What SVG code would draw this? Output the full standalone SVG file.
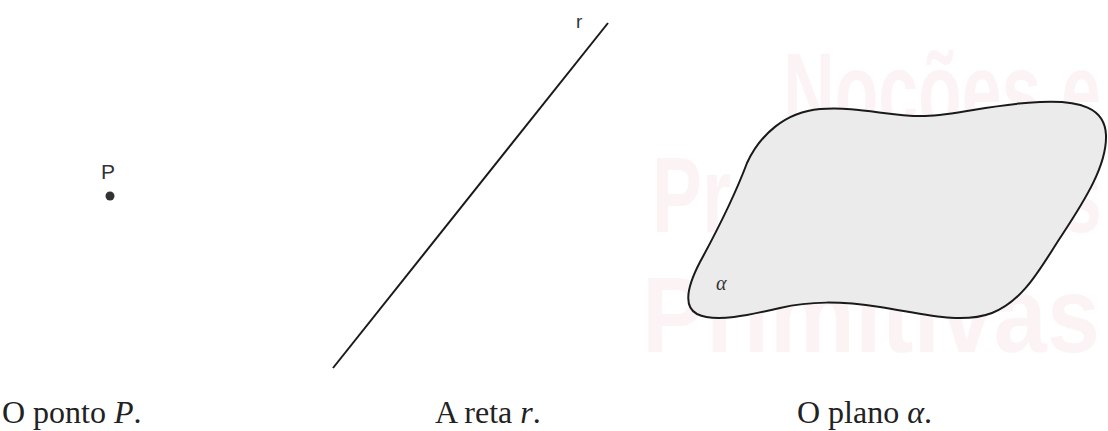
<svg xmlns="http://www.w3.org/2000/svg" width="1108" height="431" viewBox="0 0 1108 431">
<style>
.caption{font-family:"Liberation Serif","Times New Roman",serif;font-size:32px;fill:#222}
.label{font-family:"Liberation Sans",Arial,sans-serif;fill:#333}
.wm{font-family:"Liberation Sans",Arial,sans-serif;font-weight:bold;font-size:108px;fill:#fcf4f4}
</style>
<rect width="1108" height="431" fill="#ffffff"/>
<g id="watermark">
<text class="wm" x="783" y="128" textLength="318" lengthAdjust="spacingAndGlyphs">Noções e</text>
<text class="wm" x="652" y="232" textLength="450" lengthAdjust="spacingAndGlyphs">Proposições</text>
<text class="wm" x="642" y="352" textLength="458" lengthAdjust="spacingAndGlyphs">Primitivas</text>
</g>
<g id="point-P">
<text class="label" x="101" y="179" font-size="21">P</text>
<circle cx="110" cy="196" r="4.5" fill="#333"/>
<text class="caption" x="2" y="423">O ponto <tspan font-style="italic">P</tspan>.</text>
</g>
<g id="line-r">
<line x1="333" y1="368" x2="608" y2="23" stroke="#1a1a1a" stroke-width="2"/>
<text class="label" x="576" y="28" font-size="19">r</text>
<text class="caption" x="435" y="423">A reta <tspan font-style="italic">r</tspan>.</text>
</g>
<g id="plane-alpha">
<path d="M 747,163 C 760,135 785,112 820,109 C 860,106 890,117 925,116 C 960,115 990,104 1040,102 C 1080,100 1105,108 1106,135 C 1107,165 1085,200 1062,235 C 1042,265 1025,300 992,313 C 960,325 920,313 880,307 C 840,301 810,301 780,308 C 750,315 715,323 697,314 C 682,306 688,285 700,262 C 712,240 735,195 747,163 Z" fill="#ebebeb" stroke="#1a1a1a" stroke-width="2"/>
<text x="716" y="290" font-family="Liberation Serif,serif" font-style="italic" font-size="20" fill="#333">α</text>
<text class="caption" x="797" y="423">O plano <tspan font-style="italic">α</tspan>.</text>
</g>
</svg>
